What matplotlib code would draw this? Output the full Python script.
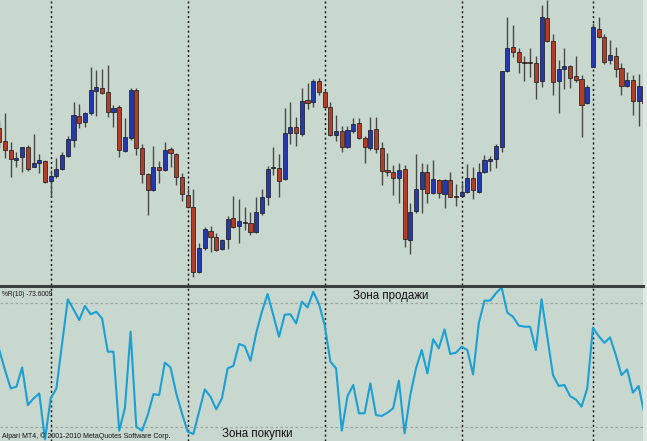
import matplotlib
matplotlib.use("Agg")
import matplotlib.pyplot as plt
import numpy as np

# H1 candles, arbitrary price units
opens = [172, 159, 150, 140, 143, 153, 133, 137, 139, 119, 124, 131, 144, 160, 184, 178, 187, 209, 212, 208,
         188, 193, 149, 162, 210, 152, 126, 110, 133, 130, 151, 146, 123, 105, 93, 28, 52, 69, 63, 51,
         61, 82, 74, 78, 77, 68, 87, 103, 132, 132, 121, 167, 173, 166, 200, 198, 219, 208, 193, 165,
         169, 153, 169, 177, 162, 152, 171, 152, 130, 128, 122, 131, 60, 89, 111, 128, 107, 120, 106, 120,
         104, 104, 108, 122, 108, 128, 139, 141, 153, 229, 253, 248, 238, 238, 237, 219, 282, 259, 219, 231,
         234, 224, 221, 197, 233, 271, 263, 240, 244, 232, 214, 220, 199, 214]
highs = [180, 187, 158, 148, 153, 155, 166, 146, 140, 130, 142, 148, 164, 198, 196, 188, 233, 230, 231, 235,
         195, 195, 182, 212, 212, 156, 127, 154, 139, 158, 153, 147, 127, 112, 111, 57, 73, 74, 67, 61,
         84, 104, 101, 93, 88, 103, 111, 134, 153, 146, 192, 198, 183, 212, 217, 221, 222, 210, 198, 185,
         174, 174, 182, 182, 164, 183, 183, 158, 147, 135, 137, 135, 97, 146, 137, 136, 140, 121, 121, 128,
         116, 117, 136, 133, 137, 145, 144, 156, 229, 283, 275, 252, 244, 252, 244, 295, 300, 266, 240, 252,
         235, 244, 225, 215, 277, 283, 266, 260, 253, 237, 228, 225, 226, 220]
lows = [152, 142, 123, 133, 128, 129, 133, 127, 117, 103, 122, 130, 143, 153, 172, 173, 185, 184, 206, 183,
        173, 143, 148, 160, 145, 117, 85, 109, 117, 129, 133, 115, 99, 92, 23, 27, 50, 48, 49, 50,
        51, 72, 57, 70, 65, 67, 85, 95, 125, 103, 120, 156, 154, 164, 191, 193, 205, 192, 164, 159,
        148, 152, 167, 161, 137, 150, 147, 115, 124, 105, 97, 53, 46, 87, 87, 97, 106, 102, 92, 103,
        94, 103, 107, 101, 107, 127, 129, 132, 148, 228, 243, 227, 219, 223, 201, 213, 258, 205, 187, 211,
        212, 218, 163, 196, 233, 262, 236, 236, 223, 205, 213, 185, 174, 183]
closes = [158, 150, 141, 142, 153, 131, 137, 140, 118, 124, 131, 145, 161, 185, 177, 187, 210, 213, 207, 188,
          192, 150, 163, 210, 152, 126, 110, 133, 130, 150, 147, 123, 106, 93, 28, 52, 71, 63, 50, 60,
          81, 73, 79, 77, 68, 88, 103, 131, 133, 119, 167, 173, 167, 199, 197, 219, 208, 193, 165, 169,
          153, 170, 176, 162, 153, 170, 151, 129, 128, 122, 130, 61, 88, 111, 128, 107, 121, 107, 120, 103,
          103, 108, 122, 110, 128, 140, 141, 154, 229, 252, 248, 238, 237, 237, 218, 283, 259, 218, 231, 234,
          222, 220, 195, 213, 273, 263, 238, 245, 231, 214, 220, 199, 214, 197]

# Williams %R(10), one value per bar
wpr = [-42.9, -52.6, -61.5, -60.6, -51.3, -69.5, -66.3, -63.9, -86.1, -66.3,
       -61.5, -39.7, -18.4, -23.2, -28.4, -21.6, -25.6, -24.4, -27.6, -43.7,
       -43.7, -81.9, -71.1, -34.0, -80.0, -81.9, -74.4, -64.2, -64.7, -49.0,
       -51.3, -63.9, -73.5, -82.4, -83.5, -72.7, -61.9, -65.5, -71.6, -66.3,
       -51.8, -50.6, -40.0, -41.0, -48.1, -34.8, -24.4, -15.8, -26.0, -36.5,
       -25.8, -25.6, -30.0, -19.5, -22.3, -14.7, -20.6, -30.8, -48.5, -51.8,
       -81.9, -65.2, -59.8, -73.5, -73.5, -59.0, -74.4, -74.8, -73.2, -71.1,
       -57.7, -83.2, -64.7, -51.8, -42.9, -54.2, -37.7, -42.1, -32.9, -44.8,
       -44.2, -41.3, -42.9, -54.7, -30.0, -19.0, -19.0, -15.5, -12.6, -24.8,
       -26.8, -31.1, -31.6, -31.6, -42.9, -18.4, -36.5, -55.0, -60.3, -59.8,
       -65.2, -66.8, -70.3, -61.5, -32.1, -36.1, -39.4, -36.8, -45.3, -55.0,
       -52.3, -63.5, -60.3, -73.6]

day_breaks = [9, 33, 57, 81, 104]
wpr_levels = [-20, -80]

bg = "#c9d8cf"
bull = "#2538ad"
bear = "#b23e2a"

W, H = 647, 441
fig = plt.figure(figsize=(W / 100, H / 100), dpi=100, facecolor="#dfe7e2")

ax = fig.add_axes([0, 1 - 285 / H, 643 / W, 285 / H])
bx = fig.add_axes([0, 0, 643 / W, 153 / H])

n = len(opens)
idx = np.arange(n)
o = np.array(opens); c = np.array(closes); h = np.array(highs); l = np.array(lows)
up = c >= o

ax.vlines(idx, l, h, color="#474a47", lw=1.0, zorder=2)
ax.bar(idx[up], (c - o)[up], bottom=o[up], width=0.72, color=bull, edgecolor="#151515", lw=0.5, zorder=3)
ax.bar(idx[~up], (o - c)[~up], bottom=c[~up], width=0.72, color=bear, edgecolor="#151515", lw=0.5, zorder=3)

ax.set_xlim(0.12, 112.77)
ax.set_ylim(15, 300)

bx.plot(idx, wpr, color="#1c9fd3", lw=1.5, zorder=3)
for lv in wpr_levels:
    bx.axhline(lv, color="#9aa59f", lw=0.9, ls=(0, (2, 2)), zorder=1)
bx.set_xlim(0.12, 112.77)
bx.set_ylim(-86.9, -12.9)

for a in (ax, bx):
    a.set_facecolor(bg)
    a.set_xticks([])
    a.set_yticks([])
    for s in a.spines.values():
        s.set_visible(False)
    for d in day_breaks:
        a.axvline(d, color="#111111", lw=1.0, ls=(0, (1.5, 2)), zorder=1)

# separator between the panes
fig.add_artist(plt.Line2D([0, 643 / W], [1 - 286 / H] * 2, color="#3a413c", lw=2.2))

fig.text(2 / W, 1 - 294 / H, "%R(10) -73.6009", fontsize=4.8, color="#111111",
         family="Liberation Sans", va="center")
fig.text(353 / W, 1 - 296 / H, "Зона продажи", fontsize=8.3, color="#111111",
         family="Liberation Sans", va="center")
fig.text(222 / W, 1 - 434 / H, "Зона покупки", fontsize=8.3, color="#111111",
         family="Liberation Sans", va="center")
fig.text(2 / W, 1 - 436 / H, "Alpari MT4, © 2001-2010 MetaQuotes Software Corp.", fontsize=5.0,
         color="#111111", family="Liberation Sans", va="center")

fig.savefig("out.png", dpi=100, facecolor=fig.get_facecolor())
